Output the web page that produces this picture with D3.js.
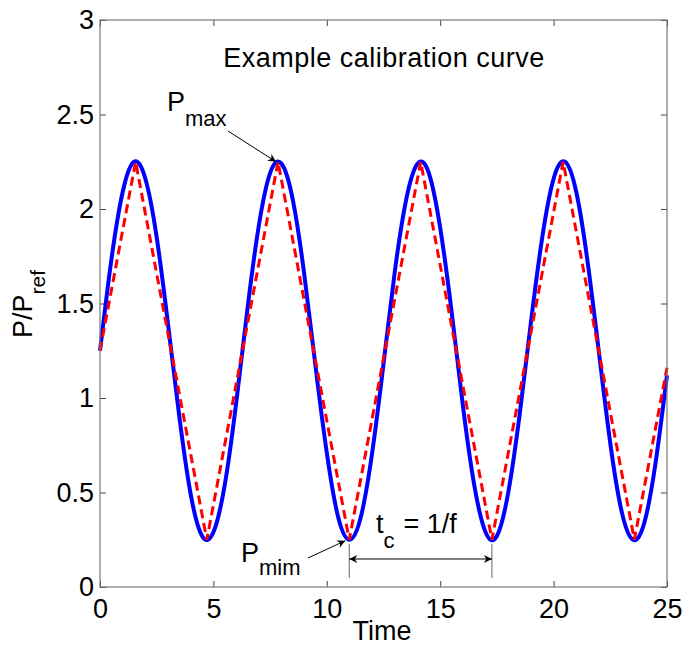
<!DOCTYPE html>
<html>
<head>
<meta charset="utf-8">
<title>Example calibration curve</title>
<style>
body { margin: 0; background: #fff; }
svg { display: block; font-family: Arial, "Liberation Sans", sans-serif; }
.tick text { font-size: 27px; fill: #000; }
.lbl { font-size: 27px; fill: #000; }
</style>
</head>
<body>
<svg id="chart" width="683" height="649"></svg>
<script src="https://cdnjs.cloudflare.com/ajax/libs/d3/7.8.5/d3.min.js"></script>
<script>
// measured curve (blue), sampled every 0.5 time units
const time = [0,0.5,1,1.5,2,2.5,3,3.5,4,4.5,5,5.5,6,6.5,7,7.5,8,8.5,9,9.5,10,10.5,11,11.5,12,12.5,
  13,13.5,14,14.5,15,15.5,16,16.5,17,17.5,18,18.5,19,19.5,20,20.5,21,21.5,22,22.5,23,23.5,24,24.5,25];
const pressure = [1.25,1.73,2.09,2.25,2.16,1.85,1.39,0.90,0.49,0.27,0.29,0.54,0.97,1.47,1.91,2.19,2.24,2.05,
  1.66,1.17,0.71,0.37,0.25,0.37,0.71,1.18,1.67,2.05,2.24,2.19,1.90,1.46,0.96,0.54,0.29,0.27,0.50,0.91,
  1.40,1.85,2.16,2.25,2.09,1.72,1.24,0.76,0.40,0.25,0.34,0.66,1.12];
// fitted triangle (red dashed): corner points
const triTime = [0,1.57,4.71,7.85,10.99,14.14,17.28,20.42,23.56,25];
const triValue = [1.25,2.25,0.25,2.25,0.25,2.25,0.25,2.25,0.25,1.16];

const xTicks = [0,5,10,15,20,25];
const yTicks = [0,0.5,1,1.5,2,2.5,3];

const svg = d3.select("#chart");
const mLeft = 100, mRight = 667, mTop = 20, mBottom = 587;

const x = d3.scaleLinear().domain([0,25]).range([mLeft,mRight]);
const y = d3.scaleLinear().domain([0,3]).range([mBottom,mTop]);

// arrow markers
const defs = svg.append("defs");
defs.append("marker").attr("id","ah").attr("viewBox","0 0 10 10")
  .attr("refX",10).attr("refY",5).attr("markerWidth",11).attr("markerHeight",8)
  .attr("markerUnits","userSpaceOnUse").attr("orient","auto-start-reverse")
  .append("path").attr("d","M0,0 L10,5 L0,10 L3,5 Z").attr("fill","#000");

// axes box with inward ticks
const fmt = d => d3.format("")(d);
svg.append("g").attr("transform",`translate(0,${mBottom})`)
  .call(d3.axisBottom(x).tickValues(xTicks).tickFormat(fmt).tickSizeInner(-6).tickSizeOuter(0).tickPadding(12))
  .call(g => g.select(".domain").remove());
svg.append("g").attr("transform",`translate(0,${mTop})`)
  .call(d3.axisTop(x).tickValues(xTicks).tickFormat("").tickSizeInner(-6).tickSizeOuter(0))
  .call(g => g.select(".domain").remove());
svg.append("g").attr("transform",`translate(${mLeft},0)`)
  .call(d3.axisLeft(y).tickValues(yTicks).tickFormat(fmt).tickSizeInner(-6).tickSizeOuter(0).tickPadding(6))
  .call(g => g.select(".domain").remove());
svg.append("g").attr("transform",`translate(${mRight},0)`)
  .call(d3.axisRight(y).tickValues(yTicks).tickFormat("").tickSizeInner(-6).tickSizeOuter(0))
  .call(g => g.select(".domain").remove());
svg.selectAll(".tick line").attr("stroke","#444");
svg.selectAll(".tick text").attr("font-family",null).attr("font-size",null);

// curves
svg.append("path")
  .datum(time.map((t,i) => [t, pressure[i]]))
  .attr("fill","none").attr("stroke","#0000ff").attr("stroke-width",4)
  .attr("d", d3.line().x(d => x(d[0])).y(d => y(d[1])).curve(d3.curveNatural));
svg.append("path")
  .datum(triTime.map((t,i) => [t, triValue[i]]))
  .attr("fill","none").attr("stroke","#ff0000").attr("stroke-width",3)
  .attr("stroke-dasharray","9,5")
  .attr("d", d3.line().x(d => x(d[0])).y(d => y(d[1])));

svg.append("rect").attr("x",mLeft).attr("y",mTop).attr("width",mRight-mLeft).attr("height",mBottom-mTop)
  .attr("fill","none").attr("stroke","#777").attr("stroke-width",1.2);

// labels
svg.append("text").attr("class","lbl").attr("x",384).attr("y",67).attr("text-anchor","middle")
  .attr("letter-spacing",0.5).text("Example calibration curve");
svg.append("text").attr("class","lbl").attr("x",382).attr("y",640).attr("text-anchor","middle").text("Time");
const yl = svg.append("text").attr("class","lbl").attr("transform","translate(32,338) rotate(-90)");
yl.append("tspan").text("P/P");
yl.append("tspan").attr("dy",13).attr("font-size",21).text("ref");

// P_max annotation
const pmax = [triTime[3], triValue[3]];
const t1 = svg.append("text").attr("class","lbl").attr("x",167).attr("y",111);
t1.append("tspan").text("P");
t1.append("tspan").attr("dy",15).attr("font-size",22).text("max");
svg.append("line").attr("x1",228).attr("y1",131).attr("x2",x(pmax[0])-2).attr("y2",y(pmax[1]))
  .attr("stroke","#000").attr("stroke-width",1).attr("marker-end","url(#ah)");

// P_min annotation
const pmin = [triTime[4], triValue[4]];
const t2 = svg.append("text").attr("class","lbl").attr("x",241).attr("y",562);
t2.append("tspan").text("P");
t2.append("tspan").attr("dy",13).attr("font-size",22).text("mim");
svg.append("line").attr("x1",308).attr("y1",558).attr("x2",x(pmin[0])-4).attr("y2",y(pmin[1])+1)
  .attr("stroke","#000").attr("stroke-width",1).attr("marker-end","url(#ah)");

// period annotation
const p2 = triTime[6];
[pmin[0], p2].forEach(t => {
  svg.append("line").attr("x1",x(t)).attr("x2",x(t)).attr("y1",544).attr("y2",578)
    .attr("stroke","#666").attr("stroke-width",1);
});
svg.append("line").attr("x1",x(pmin[0])).attr("x2",x(p2)).attr("y1",559).attr("y2",559)
  .attr("stroke","#000").attr("stroke-width",1)
  .attr("marker-start","url(#ah)").attr("marker-end","url(#ah)");
const t3 = svg.append("text").attr("class","lbl").attr("x",376).attr("y",533);
t3.append("tspan").text("t");
t3.append("tspan").attr("dy",15).attr("font-size",22).text("c");
t3.append("tspan").attr("dy",-15).attr("dx",9).text("= 1/f");
</script>
</body>
</html>
